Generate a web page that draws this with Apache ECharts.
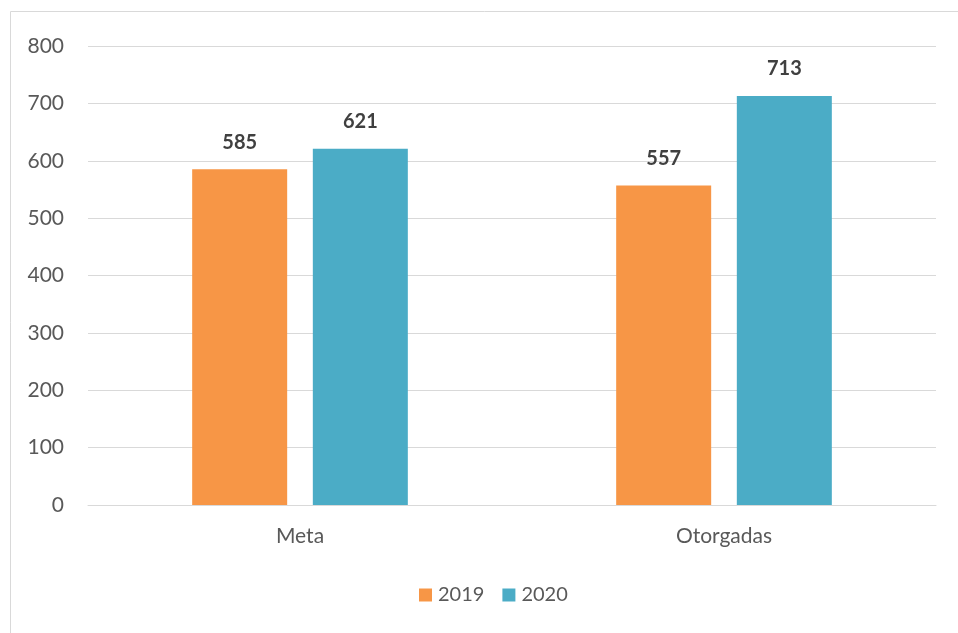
<!DOCTYPE html>
<html><head><meta charset="utf-8">
<script src="https://cdn.jsdelivr.net/npm/echarts@6/dist/echarts.min.js"></script>
<style>html,body{margin:0;padding:0;background:#fff}#c{width:958px;height:633px}</style>
</head><body><div id="c"></div>
<script>
const categories = ['Meta', 'Otorgadas'];
const seriesNames = ['2019', '2020'];
const values2019 = [585, 557];
const values2020 = [621, 713];
const yTicks = [0, 100, 200, 300, 400, 500, 600, 700, 800];

const font = 'Lato, "Open Sans", sans-serif';
const chart = echarts.init(document.getElementById('c'), null, {renderer: 'canvas'});
const labelStyle = {show: true, position: 'top', distance: 17, fontFamily: font, fontSize: 20, fontWeight: 'bold', color: '#404040'};
chart.setOption({
  animation: false,
  graphic: [{type: 'rect', shape: {x: 10.5, y: 11.5, width: 960, height: 640}, style: {fill: 'none', stroke: '#d9d9d9', lineWidth: 1}, silent: true}],
  grid: {left: 88, right: 22, top: 46, bottom: 128},
  legend: {
    data: seriesNames, top: 580, left: 414, itemWidth: 13, itemHeight: 13, itemGap: 18, icon: 'rect',
    textStyle: {fontFamily: font, fontSize: 20, color: '#595959', padding: [0, 0, 0, 1]}
  },
  xAxis: {
    type: 'category', data: categories,
    axisLine: {lineStyle: {color: '#d9d9d9', width: 1}}, axisTick: {show: false},
    axisLabel: {fontFamily: font, fontSize: 21, color: '#595959', margin: 21}
  },
  yAxis: {
    type: 'value', min: yTicks[0], max: yTicks[yTicks.length - 1], interval: 100,
    axisLine: {show: false}, axisTick: {show: false},
    splitLine: {lineStyle: {color: '#d9d9d9', width: 1}},
    axisLabel: {fontFamily: font, fontSize: 21, color: '#595959', margin: 24}
  },
  series: [
    {name: seriesNames[0], type: 'bar', data: values2019, barWidth: 95, barGap: '27%', itemStyle: {color: '#F79646'}, label: labelStyle},
    {name: seriesNames[1], type: 'bar', data: values2020, barWidth: 95, itemStyle: {color: '#4BACC6'}, label: labelStyle}
  ]
});
</script></body></html>
